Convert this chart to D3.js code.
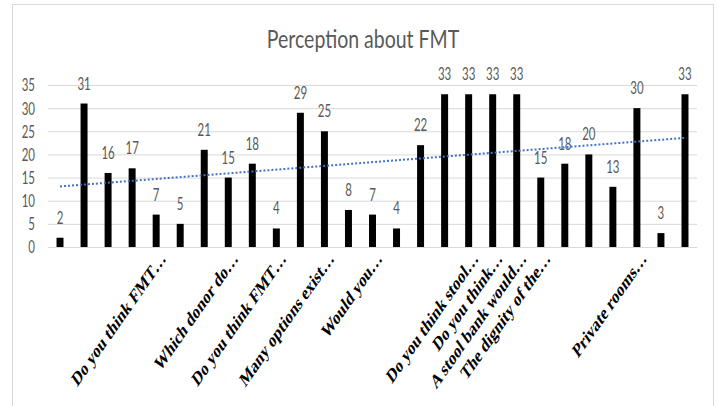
<!DOCTYPE html>
<html>
<head>
<meta charset="utf-8">
<script src="https://cdn.jsdelivr.net/npm/d3@7"></script>
<style>
  body { margin: 0; background: #ffffff; }
  svg { display: block; }
</style>
</head>
<body>
<svg id="chart" width="717" height="406"></svg>
<script>
// ---- data ----
const chartTitle = "Perception about FMT";
const categories = [
  "", "", "", "", "Do you think FMT…", "", "", "Which donor do…", "",
  "Do you think FMT…", "", "Many options exist…", "", "Would you…", "", "", "",
  "Do you think stool…", "Do you think…", "A stool bank would…", "The dignity of the…",
  "", "", "", "Private rooms…", "", ""
];
const values = [2, 31, 16, 17, 7, 5, 21, 15, 18, 4, 29, 25, 8, 7, 4, 22, 33, 33, 33, 33, 15, 18, 20, 13, 30, 3, 33];
const yTicks = [0, 5, 10, 15, 20, 25, 30, 35];

// ---- layout ----
const W = 717, H = 406;
const plot = { left: 48, right: 697, top: 85, bottom: 247 };
const STRETCH = 1.43;           // text is drawn tall and narrow
const textGrey = "#595959";
const gridGrey = "#d9d9d9";
const sansFont = "Lato, 'Open Sans', sans-serif";

const svg = d3.select("#chart");

svg.append("rect")
  .attr("x", 0).attr("y", 0).attr("width", W).attr("height", H)
  .attr("fill", "#ffffff");

// chart frame
svg.append("rect")
  .attr("x", 12.5).attr("y", 4.5)
  .attr("width", 701).attr("height", H + 10)
  .attr("fill", "none").attr("stroke", gridGrey).attr("stroke-width", 1);

const idx = values.map((d, i) => i);

const x = d3.scaleBand()
  .domain(idx)
  .range([plot.left, plot.right])
  .paddingInner(0.71)
  .paddingOuter(0.355);

const y = d3.scaleLinear()
  .domain([0, 35])
  .range([plot.bottom, plot.top]);

// title
svg.append("text")
  .attr("transform", `translate(${(12.5 + 713.5) / 2},48) scale(1,${STRETCH * 0.92})`)
  .attr("text-anchor", "middle")
  .attr("font-family", sansFont)
  .attr("font-size", 19.5)
  .attr("fill", textGrey)
  .text(chartTitle);

// y axis with gridlines
const yAxis = svg.append("g")
  .attr("transform", `translate(${plot.left},0)`)
  .call(d3.axisLeft(y).tickValues(yTicks).tickSize(-(plot.right - plot.left)).tickPadding(13));
yAxis.select(".domain").remove();
yAxis.selectAll(".tick line").attr("stroke", gridGrey).attr("stroke-width", 1);
yAxis.selectAll(".tick text")
  .attr("font-family", sansFont)
  .attr("font-size", 11.5)
  .attr("fill", textGrey)
  .attr("dy", "0.36em")
  .attr("transform", `scale(1,${STRETCH})`);

// x axis: baseline and rotated category labels
const xAxis = svg.append("g")
  .attr("transform", `translate(0,${plot.bottom})`)
  .call(d3.axisBottom(x).tickSize(0).tickSizeOuter(0).tickFormat(i => categories[i]));
xAxis.select(".domain").attr("stroke", gridGrey).attr("stroke-width", 1);
xAxis.selectAll(".tick text")
  .attr("x", 0).attr("y", 0).attr("dy", 0)
  .attr("text-anchor", "end")
  .attr("font-family", "'Liberation Serif', 'Times New Roman', serif")
  .attr("font-weight", "bold")
  .attr("font-size", 14)
  .attr("fill", "#000000")
  .attr("transform", `translate(10.5,12.5) scale(1,${STRETCH}) rotate(-45)`);

// bars
svg.append("g")
  .selectAll("rect")
  .data(idx)
  .join("rect")
  .attr("x", i => x(i))
  .attr("y", i => y(values[i]))
  .attr("width", x.bandwidth())
  .attr("height", i => y(0) - y(values[i]))
  .attr("fill", "#000000");

// value labels
svg.append("g")
  .selectAll("text")
  .data(idx)
  .join("text")
  .attr("transform", i => `translate(${x(i) + x.bandwidth() / 2},${y(values[i]) - 14}) scale(1,${STRETCH})`)
  .attr("text-anchor", "middle")
  .attr("font-family", sansFont)
  .attr("font-size", 11.5)
  .attr("fill", textGrey)
  .text(i => values[i]);

// linear trendline (least squares over category index)
const n = values.length;
const mx = d3.mean(idx), my = d3.mean(values);
const slope = d3.sum(idx, i => (i - mx) * (values[i] - my)) / d3.sum(idx, i => (i - mx) ** 2);
const intercept = my - slope * mx;
const cx = i => x(i) + x.bandwidth() / 2;

svg.append("path")
  .datum([0, n - 1])
  .attr("d", d3.line().x(i => cx(i)).y(i => y(intercept + slope * i)))
  .attr("fill", "none")
  .attr("stroke", "#4472c4")
  .attr("stroke-width", 2)
  .attr("stroke-dasharray", "2,2");
</script>
</body>
</html>
